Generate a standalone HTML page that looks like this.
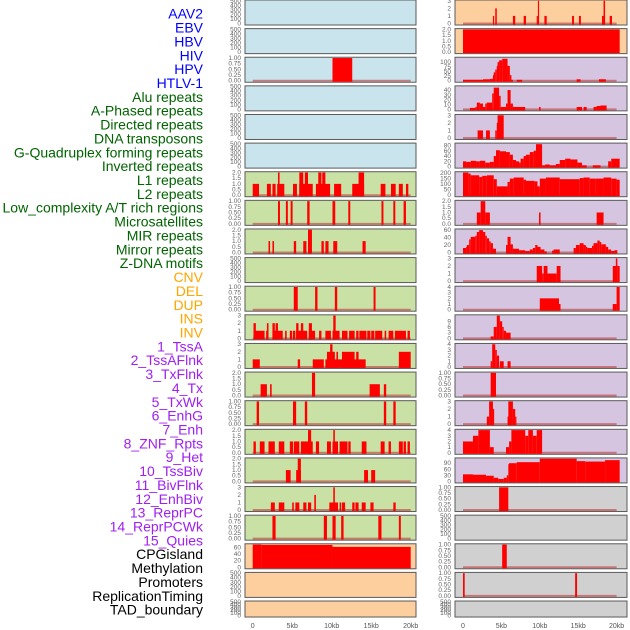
<!DOCTYPE html>
<html><head><meta charset="utf-8"><style>
html,body{margin:0;padding:0;background:#fff;width:630px;height:630px;overflow:hidden}
svg{display:block;font-family:"Liberation Sans",sans-serif}
</style></head><body>
<svg id="chart" width="630" height="630" viewBox="0 0 630 630" xmlns="http://www.w3.org/2000/svg"></svg>
<script>
const trackLabels = ["AAV2","EBV","HBV","HIV","HPV","HTLV-1","Alu repeats","A-Phased repeats","Directed repeats","DNA transposons","G-Quadruplex forming repeats","Inverted repeats","L1 repeats","L2 repeats","Low_complexity A/T rich regions","Microsatellites","MIR repeats","Mirror repeats","Z-DNA motifs","CNV","DEL","DUP","INS","INV","1_TssA","2_TssAFlnk","3_TxFlnk","4_Tx","5_TxWk","6_EnhG","7_Enh","8_ZNF_Rpts","9_Het","10_TssBiv","11_BivFlnk","12_EnhBiv","13_ReprPC","14_ReprPCWk","15_Quies","CPGisland","Methylation","Promoters","ReplicationTiming","TAD_boundary"];
const labelGroups = ["v","v","v","v","v","v","r","r","r","r","r","r","r","r","r","r","r","r","r","s","s","s","s","s","c","c","c","c","c","c","c","c","c","c","c","c","c","c","c","o","o","o","o","o"];
const xTickValues = [0,5,10,15,20];
const xTickLabels = ["0","5kb","10kb","15kb","20kb"];
const leftBg = ["b","b","b","b","b","b","g","g","g","g","g","g","g","g","g","g","g","g","g","o","o","o"];
const rightBg = ["o","o","p","p","p","p","p","p","p","p","p","p","p","p","p","p","p","y","y","y","y","y"];
const E=[0,100,200,300,400,500], F1=[0,0.25,0.5,0.75,1], F2=[0,0.5,1,1.5,2], I3=[0,1,2,3], I4=[0,1,2,3,4];
const leftTicks = [E,E,F1,E,E,E,F2,F1,F2,E,F1,I3,I3,F2,F1,F2,F2,I3,F1,[0,20,40,60],E,E];
const leftMax = [500,500,1,500,500,500,2,1,2,500,1,3,3,2,1,2,2,3,1,69,500,500];
const rightTicks = [I3,F2,[0,25,50,75,100],[0,10,20,30,40],I3,[0,20,40,60,80],[0,50,100,150,200],F2,[0,20,40,60],I3,I4,[0,3,6,9],I4,F1,I3,I4,[0,30,60,90],F1,E,F1,F1,E];
const rightMax = [3,2,122,47,3,86,205,2,61,3,4,12,4,1,3,4,112,1,500,1,1,500];
// segments: [startKb, endKb, value]
const leftSeries = [
 [],[],
 [[10.1,12.6,1]],
 [],[],[],
 [[0,0.8,1],[1.8,2.3,1],[2.5,2.9,1],[3.1,4.0,1],[3.2,3.4,2],[5.1,5.6,1],[5.9,7.6,1],[5.9,6.4,2],[6.6,7.0,2],[8.0,9.8,1],[8.3,8.7,2],[8.8,9.2,2],[10.3,11.2,1],[12.6,14.1,1],[13.4,14.1,2],[16.2,16.8,1],[17.5,18.1,1],[18.5,19.0,1],[19.4,19.7,1]],
 [[3.2,3.45,1],[4.2,4.45,1],[4.8,5.05,1],[6.9,7.2,1],[10.1,10.45,1],[12.1,12.35,1],[16.3,16.55,1],[17.8,18.05,1],[19.1,19.4,1]],
 [[2.0,2.2,1],[2.5,2.7,1],[5.2,5.5,1],[6.4,6.8,1],[7.0,7.5,2],[8.7,9.0,1],[9.2,9.6,1],[10.2,10.7,1],[13.9,14.3,1]],
 [],
 [[5.2,5.7,1],[7.9,8.2,1],[10.4,10.7,1],[15.3,15.55,1]],
 [[0.1,1.5,1],[0.1,0.4,2],[1.7,2.0,1],[1.8,2.0,2],[2.5,3.8,1],[2.5,2.8,2],[2.9,3.2,2],[4.1,4.3,1],[4.7,5.0,1],[5.1,5.4,1],[5.5,6.9,1],[5.5,5.8,2],[6.1,6.4,2],[7.1,7.9,1],[7.1,7.5,2],[8.4,8.7,1],[9.2,9.9,1],[10.1,11.0,1],[10.2,10.5,3],[11.3,12.0,1],[12.2,12.9,1],[13.1,13.4,1],[13.5,14.4,1],[14.5,14.9,1],[15.0,15.4,1],[15.5,16.4,1],[16.7,16.9,1],[17.2,17.8,1],[18.0,19.4,1],[19.6,19.9,1]],
 [[0,0.9,1],[5.7,6.0,1],[7.6,9.0,1],[9.2,14.3,1],[9.4,10.4,2],[9.8,10.1,3],[10.6,10.8,2],[11.3,12.9,2],[13.1,13.4,2],[18.5,20.0,2]],
 [[1.0,1.8,1],[2.2,2.4,1],[7.5,7.9,2],[14.8,16.1,1],[16.6,16.9,1]],
 [[0.5,0.8,1],[5.1,5.5,1],[6.6,6.9,1],[16.6,16.9,1],[17.8,18.1,1]],
 [[0.1,0.4,1],[0.9,1.5,1],[2.0,2.8,1],[3.3,4.0,1],[4.7,5.1,1],[5.2,5.9,1],[6.1,7.6,1],[7.0,7.4,2],[8.0,8.4,1],[9.4,9.9,1],[10.1,10.8,1],[10.2,10.4,2],[11.0,12.0,1],[12.1,12.4,1],[13.8,14.4,1],[16.2,16.7,1],[17.2,17.5,1],[18.5,19.0,1],[19.1,19.4,1],[19.6,19.9,1]],
 [[4.2,4.8,1],[5.5,6.1,1],[5.7,6.1,2],[14.1,14.6,1],[15.0,15.5,1]],
 [[2.3,2.8,1],[3.3,4.0,1],[5.0,5.2,1],[5.4,5.9,1],[6.4,6.8,1],[7.0,7.4,1],[7.8,8.0,2],[9.7,10.1,1],[10.1,10.8,1],[10.2,10.4,3],[11.0,11.2,1],[11.3,11.7,1],[12.6,12.9,1],[13.0,13.4,1],[13.8,14.3,1],[14.9,15.3,1],[17.8,18.1,1]],
 [[2.5,2.9,1],[9.0,9.4,1],[10.1,10.5,1],[11.2,11.5,1],[15.9,16.3,1],[18.5,18.75,1]],
 [[0,1.1,70],[1.1,10.1,68],[10.1,20.0,62]],
 [],[]
];
const rightSeries = [
 [[3.9,4.05,1],[4.2,4.4,2],[6.5,6.8,1],[7.9,8.2,1],[9.6,9.75,1],[9.75,9.9,3],[10.6,10.9,1],[14.2,14.45,1],[15.1,15.35,1],[18.1,18.3,1],[18.3,18.5,3],[19.1,19.4,1]],
 [[0,20.4,2]],
 [[0,2.6,5],[2.6,3.5,8],[3.5,3.9,10],[3.9,4.0,30],[4.0,4.2,45],[4.2,4.4,60],[4.4,4.5,80],[4.5,4.7,100],[4.7,5.1,110],[5.1,5.8,118],[5.8,6.1,80],[6.1,6.3,30],[6.3,6.5,5],[7.0,7.7,5],[14.8,15.3,8],[17.7,18.6,8]],
 [[0.9,1.6,3],[1.6,1.8,5],[1.8,2.2,14],[2.2,2.6,12],[2.6,2.9,5],[2.9,3.1,12],[3.1,3.8,14],[3.8,4.0,33],[4.0,4.7,45],[4.7,4.9,28],[4.9,5.6,5],[5.6,5.8,12],[5.8,6.2,40],[6.2,6.5,12],[6.5,8.1,5],[9.9,10.1,5],[14.8,15.5,5],[15.7,16.1,5],[17.0,17.4,5],[17.4,17.9,7],[17.9,18.7,8]],
 [[1.9,2.6,1],[3.0,3.5,1],[4.2,4.4,1],[4.4,4.5,2],[4.5,5.3,3]],
 [[0,0.4,20],[0.4,1.0,18],[1.0,1.7,22],[1.7,2.2,20],[2.2,2.9,22],[2.9,3.5,15],[3.5,4.0,18],[4.0,4.3,40],[4.3,4.8,62],[4.8,5.6,58],[5.6,6.1,55],[6.1,6.5,45],[6.5,6.9,25],[6.9,7.3,20],[7.3,7.5,15],[7.5,7.9,30],[7.9,8.2,40],[8.2,8.7,45],[8.7,9.2,55],[9.2,9.5,60],[9.5,10.3,85],[10.3,10.7,5],[10.7,11.3,8],[11.3,12.1,5],[12.1,12.6,10],[12.6,13.3,25],[13.3,14.0,30],[14.0,14.9,27],[14.9,15.5,15],[15.5,16.1,5],[16.9,17.9,5],[18.9,19.3,20],[19.3,20.4,30]],
 [[0,0.7,205],[0.7,1.0,195],[1.0,2.1,180],[2.1,2.5,165],[2.5,3.1,175],[3.1,4.0,180],[4.0,4.4,145],[4.4,5.8,80],[5.8,6.1,120],[6.1,6.6,150],[6.6,7.9,160],[7.9,8.2,140],[8.2,9.3,130],[9.3,9.7,125],[9.7,10.0,80],[10.0,10.8,150],[10.8,12.6,160],[12.6,15.2,145],[15.2,15.7,155],[15.7,16.5,160],[16.5,17.3,150],[17.3,18.3,150],[18.3,19.3,160],[19.3,20.0,150],[20.0,20.4,140]],
 [[1.8,2.3,1],[2.3,2.9,2],[2.9,3.5,1],[9.9,10.1,1],[17.4,18.3,1]],
 [[0,0.4,12],[0.4,0.5,15],[0.5,0.8,20],[0.8,1.0,35],[1.0,1.6,42],[1.6,1.8,45],[1.8,2.1,55],[2.1,2.6,60],[2.6,2.9,55],[2.9,3.1,45],[3.1,3.4,38],[3.4,3.6,30],[3.6,3.9,25],[3.9,4.3,10],[5.6,5.8,20],[5.8,6.2,42],[6.2,6.5,22],[6.5,7.3,10],[7.3,8.1,6],[8.1,8.7,4],[8.7,9.1,8],[9.1,9.4,12],[9.4,9.7,20],[9.7,10.1,15],[10.1,10.6,8],[10.6,10.9,3],[11.6,11.8,5],[11.8,12.6,8],[14.4,14.7,12],[14.7,15.2,20],[15.2,15.7,25],[15.7,16.0,20],[16.0,16.2,15],[16.2,16.8,12],[16.8,17.0,18],[17.0,17.5,25],[17.5,17.8,32],[17.8,18.0,28],[18.0,18.6,22],[18.6,18.9,15],[18.9,19.3,8],[19.3,19.7,4],[19.7,20.1,6]],
 [[9.6,10.3,2],[10.3,10.5,1],[10.5,11.0,2],[11.0,12.2,1],[12.2,12.7,2],[19.5,20.0,2],[19.9,20.1,3],[20.1,20.4,2]],
 [[10.0,12.5,2],[12.5,12.7,1],[19.5,20.0,1],[20.0,20.4,4]],
 [[3.6,4.0,1],[4.0,4.4,6],[4.4,4.8,12],[4.8,5.1,9],[5.1,5.3,6],[5.3,5.6,4],[5.6,6.2,3]],
 [[3.6,3.8,1],[3.8,4.2,4],[4.2,4.4,3],[4.4,4.7,2],[4.8,5.3,1],[5.8,6.2,1]],
 [[3.6,4.3,1]],
 [[3.1,3.4,1],[3.4,3.9,3],[3.9,4.0,2],[5.8,5.9,1],[5.9,6.5,3],[6.5,6.8,2],[6.8,6.9,1]],
 [[0,1.3,2],[1.3,2.0,3],[2.0,3.5,4],[3.5,4.0,1],[5.6,6.0,1],[6.0,6.3,2],[6.3,8.1,4],[8.1,8.5,3],[8.5,9.1,4],[9.1,9.6,3],[9.6,10.3,4]],
 [[0,1.3,35],[1.3,3.0,33],[3.0,4.0,28],[4.0,4.6,18],[4.6,5.3,12],[5.3,5.7,18],[5.7,5.9,30],[5.9,6.0,85],[6.0,7.0,90],[7.0,10.0,95],[10.0,14.8,112],[14.8,15.9,100],[15.9,18.5,98],[18.5,20.4,105]],
 [[4.7,5.9,1]],
 [],
 [[5.1,5.7,1]],
 [[0,0.22,1],[14.6,14.85,1]],
 []
];

const svg = document.getElementById('chart');
const NS = 'http://www.w3.org/2000/svg';
function mk(tag, attrs, parent){const e=document.createElementNS(NS,tag);for(const k in attrs)e.setAttribute(k,attrs[k]);(parent||svg).appendChild(e);return e;}
const bgColor = {b:'#c9e4ec',g:'#c9e1a5',o:'#fecf9e',p:'#d5c5e1',y:'#d0d0d0'};
const labelColor = {v:'#0000ff',r:'#006400',s:'#ffa500',c:'#a020f0',o:'#000000'};

// left labels
trackLabels.forEach((t,i)=>{
  const e=mk('text',{x:203,y:15+i*13.86,'text-anchor':'end','dominant-baseline':'middle','font-size':'14',fill:labelColor[labelGroups[i]]});
  e.textContent=t;
  
  
});

function fmt(v,ticks){const mx=ticks[ticks.length-1];if(mx===1)return v.toFixed(2);if(mx===2)return v.toFixed(1);return String(v);}

function drawPanel(col,i,bgKey,ticks,ymax,segs){
  const left = col===0?245:455, right = col===0?416:627;
  const x0 = col===0?252.7:463, pxk = col===0?7.9:7.68;
  const top = i*28.62, h = i===21?16:25;
  const yb = top+h-1.5, yt = top+0.8;
  const xs = v=>x0+v*pxk;
  const ys = v=>yb-(v/ymax)*(yb-yt);
  const g = mk('g',{});
  
  
  const bg=mk('rect',{x:left,y:top,width:right-left,height:h,fill:bgColor[bgKey],stroke:'#5a5a5a','stroke-width':1},g);
  
  
  ticks.forEach(t=>{
    const tx=mk('text',{x:left-4,y:ys(t)+2,'text-anchor':'end','font-size':'6.5',fill:'#666'},g);
    tx.textContent=fmt(t,ticks);
    
    
  });
  if(segs.length){
    const bl=mk('line',{x1:xs(0),x2:xs(20),y1:yb,y2:yb,stroke:'rgba(190,60,60,0.6)','stroke-width':2},g);
    
    
  }
  segs.forEach(s=>{
    const yv=ys(Math.min(s[2],ymax));
    const r=mk('rect',{x:xs(s[0]),y:yv,width:Math.max(1.2,xs(s[1])-xs(s[0])),height:yb-yv+1,fill:'#ff0000'},g);
    
    
  });
}
for(let i=0;i<22;i++){
  drawPanel(0,i,leftBg[i],leftTicks[i],leftMax[i],leftSeries[i]);
  drawPanel(1,i,rightBg[i],rightTicks[i],rightMax[i],rightSeries[i]);
}
// x axes
[0,1].forEach(col=>{
  const x0 = col===0?252.7:463, pxk = col===0?7.9:7.68;
  xTickValues.forEach((v,k)=>{
    const t=mk('text',{x:x0+v*pxk,y:628,'text-anchor':'middle','font-size':'7',fill:'#555'});
    t.textContent=xTickLabels[k];
    
    
  });
});
</script>
</body></html>
